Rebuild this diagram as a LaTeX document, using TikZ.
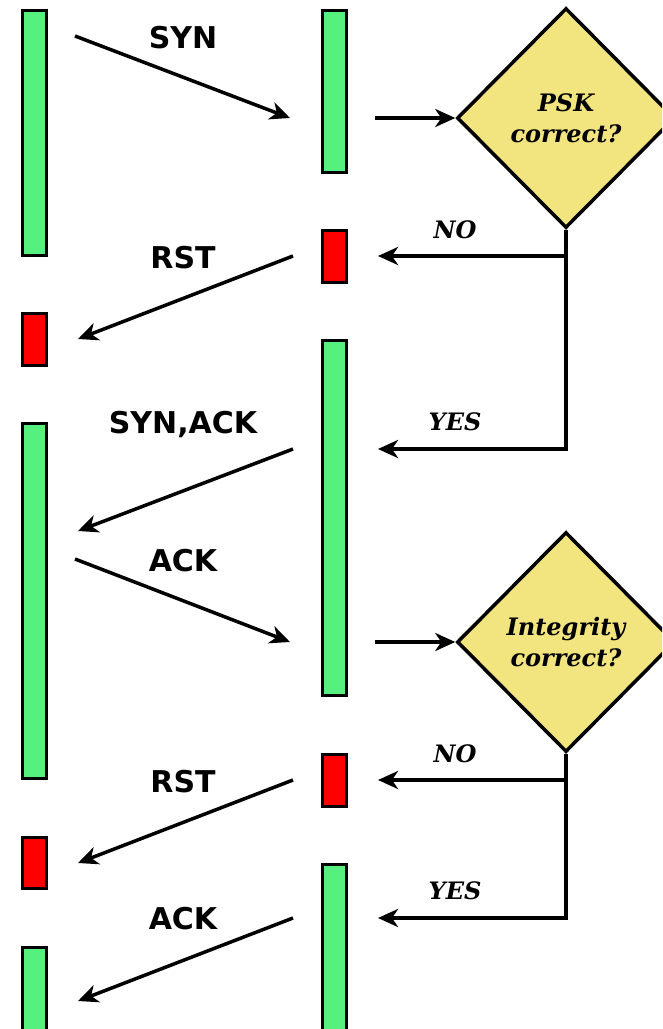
\documentclass[tikz,border=0pt]{standalone}
\usepackage{fontspec}
\newfontfamily\msgfont{DejaVu Sans}
\newfontfamily\askfont{DejaVu Serif}
\usetikzlibrary{arrows.meta, shapes.geometric}

\definecolor{okgreen}{RGB}{85,240,125}
\definecolor{badred}{RGB}{255,0,0}
\definecolor{askyellow}{RGB}{242,228,126}

\tikzset{
  bar/.style={rectangle, draw, line width=3.5pt, minimum width=24pt, inner sep=0pt},
  okbar/.style={bar, fill=okgreen},
  badbar/.style={bar, fill=badred},
  ask/.style={diamond, draw, line width=3.5pt, fill=askyellow, minimum width=218pt,
    minimum height=220pt, inner sep=0pt, align=center,
    font=\askfont\bfseries\itshape\fontsize{24}{31}\selectfont},
  msg/.style={line width=3.5pt, -{Stealth[length=20pt, width=18pt, inset=6pt]}},
  msglabel/.style={anchor=base, font=\msgfont\bfseries\fontsize{30}{34}\selectfont},
  anslabel/.style={anchor=base, font=\askfont\bfseries\itshape\fontsize{24}{28}\selectfont}
}

\begin{document}
\begin{tikzpicture}[x=1pt, y=-1pt]
  \useasboundingbox (0,0) rectangle (662,1029);
  \clip (0,0) rectangle (662,1029);

  % client side
  \node[okbar, minimum height=245pt] (c1) at (34.5,133) {};
  \node[badbar, minimum height=52pt] (c2) at (34.5,339.5) {};
  \node[okbar, minimum height=355pt] (c3) at (34.5,601) {};
  \node[badbar, minimum height=51pt] (c4) at (34.5,863) {};
  \node[okbar, minimum height=151pt] (c5) at (34.5,1023) {};

  % server side
  \node[okbar, minimum height=162pt] (s1) at (334.5,91.5) {};
  \node[badbar, minimum height=52pt] (s2) at (334.5,256.5) {};
  \node[okbar, minimum height=355pt] (s3) at (334.5,518) {};
  \node[badbar, minimum height=52pt] (s4) at (334.5,780.5) {};
  \node[okbar, minimum height=234pt] (s5) at (334.5,981.5) {};

  % checks
  \node[ask] (psk) at (566,118) {PSK\\correct?};
  \node[ask] (mic) at (566,642) {Integrity\\correct?};

  % message ends
  \coordinate (syn-a) at (75,36);    \coordinate (syn-b) at (290,118);
  \coordinate (rst1-a) at (293,256); \coordinate (rst1-b) at (78,339);
  \coordinate (sa-a) at (293,449);   \coordinate (sa-b) at (78,531);
  \coordinate (ack1-a) at (75,559);  \coordinate (ack1-b) at (290,642);
  \coordinate (rst2-a) at (293,780); \coordinate (rst2-b) at (78,863);
  \coordinate (ack2-a) at (293,918); \coordinate (ack2-b) at (78,1001);
  \coordinate (psk-in) at (375,118);
  \coordinate (mic-in) at (375,642);
  \coordinate (psk-no) at (378,256);
  \coordinate (psk-yes) at (378,449);
  \coordinate (mic-no) at (378,780);
  \coordinate (mic-yes) at (378,918);

  \draw[msg] (syn-a) -- (syn-b);
  \draw[msg] (rst1-a) -- (rst1-b);
  \draw[msg] (sa-a) -- (sa-b);
  \draw[msg] (ack1-a) -- (ack1-b);
  \draw[msg] (rst2-a) -- (rst2-b);
  \draw[msg] (ack2-a) -- (ack2-b);

  \draw[msg] (psk-in) -- (psk.west);
  \draw[msg] (mic-in) -- (mic.west);
  \draw[msg] (psk.south) |- (psk-no);
  \draw[msg] (psk.south) |- (psk-yes);
  \draw[msg] (mic.south) |- (mic-no);
  \draw[msg] (mic.south) |- (mic-yes);

  % labels
  \node[msglabel] (syn) at (183,48) {SYN};
  \node[msglabel] (rst1) at (183,268) {RST};
  \node[msglabel] (sa) at (183,433) {SYN,ACK};
  \node[msglabel] (ack1) at (183,571) {ACK};
  \node[msglabel] (rst2) at (183,792) {RST};
  \node[msglabel] (ack2) at (183,929) {ACK};

  \node[anslabel] (no1) at (455,238) {NO};
  \node[anslabel] (yes1) at (455,430) {YES};
  \node[anslabel] (no2) at (455,762) {NO};
  \node[anslabel] (yes2) at (455,899) {YES};
\end{tikzpicture}
\end{document}
